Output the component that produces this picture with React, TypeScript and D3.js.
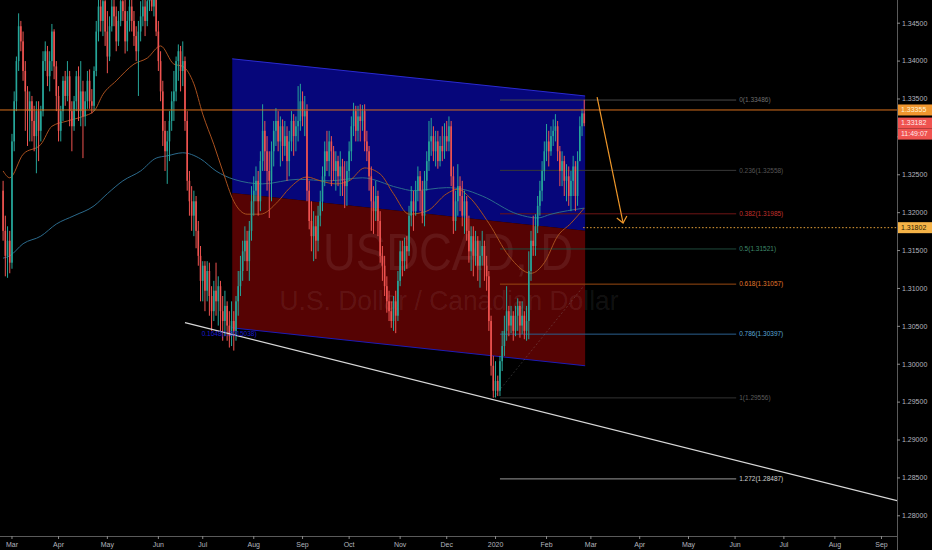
import React from 'react';
import * as d3 from 'd3';

// ---------- DATA ----------
// Daily USDCAD bars, first bar = 2019-02-25, weekdays only
const START_DATE = '2019-02-25';
const firstOpen = 1.3229;
const closes = [
  1.3176,1.3143,1.3163,1.3134,1.3294,1.3347,1.3400,1.3446,1.3426,1.3387,
  1.3360,1.3334,1.3347,1.3321,1.3301,1.3334,1.3308,1.3334,1.3400,1.3413,
  1.3380,1.3400,1.3439,1.3393,1.3354,1.3308,1.3334,1.3374,1.3354,1.3380,
  1.3334,1.3314,1.3347,1.3380,1.3334,1.3360,1.3327,1.3347,1.3374,1.3347,
  1.3341,1.3387,1.3439,1.3472,1.3453,1.3479,1.3439,1.3406,1.3446,1.3472,
  1.3459,1.3426,1.3453,1.3479,1.3466,1.3426,1.3453,1.3472,1.3453,1.3433,
  1.3413,1.3439,1.3459,1.3472,1.3453,1.3479,1.3492,1.3472,1.3486,1.3439,
  1.3400,1.3360,1.3308,1.3281,1.3294,1.3321,1.3347,1.3360,1.3400,1.3413,
  1.3387,1.3400,1.3321,1.3242,1.3215,1.3196,1.3215,1.3176,1.3143,1.3110,
  1.3130,1.3097,1.3123,1.3090,1.3070,1.3097,1.3083,1.3103,1.3070,1.3057,
  1.3077,1.3051,1.3037,1.3057,1.3044,1.3083,1.3103,1.3123,1.3149,1.3163,
  1.3136,1.3176,1.3215,1.3229,1.3242,1.3215,1.3268,1.3308,1.3281,1.3255,
  1.3242,1.3281,1.3308,1.3321,1.3294,1.3314,1.3288,1.3301,1.3268,1.3294,
  1.3321,1.3301,1.3314,1.3321,1.3347,1.3327,1.3334,1.3229,1.3189,1.3169,
  1.3182,1.3163,1.3196,1.3215,1.3248,1.3281,1.3268,1.3294,1.3281,1.3255,
  1.3268,1.3248,1.3261,1.3242,1.3235,1.3255,1.3281,1.3314,1.3334,1.3308,
  1.3327,1.3321,1.3334,1.3294,1.3281,1.3248,1.3215,1.3202,1.3222,1.3189,
  1.3143,1.3130,1.3103,1.3083,1.3070,1.3057,1.3083,1.3064,1.3110,1.3149,
  1.3136,1.3156,1.3149,1.3196,1.3215,1.3202,1.3229,1.3248,1.3229,1.3196,
  1.3242,1.3268,1.3294,1.3301,1.3281,1.3294,1.3268,1.3288,1.3281,1.3301,
  1.3294,1.3314,1.3248,1.3189,1.3215,1.3235,1.3222,1.3196,1.3215,1.3176,
  1.3149,1.3169,1.3143,1.3163,1.3130,1.3143,1.3156,1.3130,1.3116,1.3057,
  1.2998,1.2965,1.2978,1.2965,1.3004,1.3024,1.3044,1.3070,1.3051,1.3064,
  1.3044,1.3064,1.3077,1.3051,1.3064,1.3044,1.3057,1.3123,1.3163,1.3156,
  1.3182,1.3209,1.3229,1.3255,1.3281,1.3294,1.3281,1.3301,1.3308,1.3314,
  1.3281,1.3255,1.3268,1.3242,1.3248,1.3222,1.3242,1.3261,1.3222,1.3268,
  1.3314,1.3331,1.3318,
];
const highs = [
  1.3242,1.3196,1.3182,1.3176,1.3304,1.3360,1.3406,1.3463,1.3453,1.3439,
  1.3400,1.3367,1.3360,1.3354,1.3341,1.3347,1.3347,1.3341,1.3413,1.3426,
  1.3420,1.3413,1.3449,1.3442,1.3400,1.3367,1.3341,1.3380,1.3387,1.3400,
  1.3387,1.3347,1.3354,1.3387,1.3393,1.3400,1.3374,1.3360,1.3387,1.3389,
  1.3363,1.3393,1.3453,1.3492,1.3492,1.3499,1.3492,1.3466,1.3459,1.3492,
  1.3492,1.3472,1.3466,1.3499,1.3505,1.3486,1.3466,1.3492,1.3486,1.3466,
  1.3446,1.3453,1.3479,1.3492,1.3492,1.3499,1.3512,1.3512,1.3505,1.3505,
  1.3453,1.3413,1.3374,1.3321,1.3308,1.3334,1.3360,1.3387,1.3406,1.3422,
  1.3420,1.3426,1.3406,1.3334,1.3255,1.3235,1.3229,1.3222,1.3189,1.3156,
  1.3136,1.3136,1.3136,1.3134,1.3103,1.3110,1.3134,1.3116,1.3110,1.3090,
  1.3097,1.3083,1.3070,1.3083,1.3070,1.3090,1.3123,1.3143,1.3163,1.3182,
  1.3176,1.3189,1.3235,1.3248,1.3261,1.3255,1.3281,1.3343,1.3321,1.3301,
  1.3281,1.3294,1.3321,1.3338,1.3334,1.3327,1.3323,1.3321,1.3314,1.3308,
  1.3334,1.3330,1.3327,1.3367,1.3370,1.3360,1.3354,1.3343,1.3242,1.3215,
  1.3202,1.3196,1.3209,1.3229,1.3261,1.3294,1.3308,1.3308,1.3301,1.3288,
  1.3281,1.3275,1.3281,1.3271,1.3268,1.3268,1.3294,1.3327,1.3345,1.3341,
  1.3341,1.3343,1.3342,1.3343,1.3308,1.3288,1.3261,1.3235,1.3242,1.3229,
  1.3202,1.3156,1.3143,1.3116,1.3097,1.3083,1.3090,1.3097,1.3123,1.3163,
  1.3163,1.3167,1.3169,1.3209,1.3235,1.3229,1.3242,1.3261,1.3255,1.3242,
  1.3255,1.3281,1.3321,1.3325,1.3314,1.3308,1.3308,1.3301,1.3314,1.3318,
  1.3321,1.3327,1.3321,1.3261,1.3229,1.3264,1.3248,1.3242,1.3229,1.3222,
  1.3196,1.3182,1.3182,1.3176,1.3169,1.3163,1.3176,1.3163,1.3143,1.3123,
  1.3064,1.3011,1.3004,1.2985,1.3011,1.3044,1.3064,1.3103,1.3077,1.3077,
  1.3070,1.3077,1.3087,1.3083,1.3083,1.3070,1.3077,1.3149,1.3176,1.3196,
  1.3198,1.3222,1.3242,1.3268,1.3294,1.3317,1.3308,1.3314,1.3323,1.3330,
  1.3321,1.3288,1.3281,1.3275,1.3264,1.3261,1.3255,1.3275,1.3268,1.3281,
  1.3327,1.3337,1.3349,
];
const lows = [
  1.3163,1.3116,1.3114,1.3120,1.3126,1.3281,1.3334,1.3387,1.3413,1.3374,
  1.3308,1.3288,1.3294,1.3294,1.3281,1.3252,1.3268,1.3294,1.3327,1.3387,
  1.3367,1.3360,1.3387,1.3376,1.3334,1.3294,1.3294,1.3321,1.3341,1.3347,
  1.3314,1.3281,1.3308,1.3334,1.3321,1.3314,1.3272,1.3314,1.3337,1.3337,
  1.3331,1.3334,1.3380,1.3426,1.3439,1.3433,1.3420,1.3384,1.3400,1.3439,
  1.3446,1.3413,1.3420,1.3446,1.3453,1.3410,1.3413,1.3439,1.3439,1.3420,
  1.3400,1.3354,1.3426,1.3446,1.3433,1.3446,1.3466,1.3466,1.3459,1.3433,
  1.3387,1.3347,1.3288,1.3255,1.3238,1.3268,1.3308,1.3321,1.3347,1.3374,
  1.3360,1.3367,1.3308,1.3229,1.3196,1.3176,1.3169,1.3153,1.3130,1.3083,
  1.3083,1.3070,1.3083,1.3064,1.3044,1.3057,1.3064,1.3051,1.3044,1.3031,
  1.3037,1.3031,1.3022,1.3024,1.3018,1.3031,1.3064,1.3090,1.3110,1.3136,
  1.3123,1.3110,1.3163,1.3196,1.3215,1.3196,1.3202,1.3255,1.3255,1.3229,
  1.3193,1.3215,1.3261,1.3288,1.3281,1.3261,1.3268,1.3275,1.3242,1.3248,
  1.3281,1.3275,1.3281,1.3294,1.3308,1.3314,1.3301,1.3215,1.3178,1.3149,
  1.3136,1.3139,1.3149,1.3182,1.3202,1.3235,1.3255,1.3248,1.3235,1.3242,
  1.3229,1.3235,1.3222,1.3222,1.3206,1.3209,1.3242,1.3268,1.3301,1.3294,
  1.3294,1.3294,1.3308,1.3281,1.3268,1.3229,1.3176,1.3172,1.3189,1.3169,
  1.3134,1.3110,1.3090,1.3068,1.3057,1.3048,1.3044,1.3041,1.3057,1.3103,
  1.3116,1.3123,1.3126,1.3143,1.3182,1.3176,1.3196,1.3215,1.3202,1.3186,
  1.3182,1.3229,1.3255,1.3275,1.3268,1.3261,1.3258,1.3261,1.3268,1.3271,
  1.3281,1.3281,1.3235,1.3172,1.3176,1.3196,1.3202,1.3182,1.3172,1.3163,
  1.3134,1.3123,1.3116,1.3130,1.3110,1.3101,1.3130,1.3110,1.3097,1.3044,
  1.2985,1.2956,1.2956,1.2958,1.2958,1.2991,1.3011,1.3031,1.3037,1.3041,
  1.3031,1.3037,1.3044,1.3035,1.3040,1.3033,1.3031,1.3033,1.3110,1.3143,
  1.3143,1.3173,1.3196,1.3215,1.3242,1.3268,1.3261,1.3275,1.3288,1.3294,
  1.3268,1.3235,1.3235,1.3222,1.3215,1.3209,1.3202,1.3222,1.3202,1.3209,
  1.3268,1.3301,1.3314,
];

// Moving averages (bar index, price)
const emaIdx = [0,3,9,17,22,29,36,41,45,51,59,65,71,77,81,86,90,95,99,104,110,116,124,129,137,143,150,156,163,170,176,183,191,200,205,210,219,228,238,244,250,256,262];
const emaVal = [1.3255,1.3246,1.3277,1.3290,1.3314,1.3321,1.3327,1.3334,1.3356,1.3374,1.3396,1.3404,1.3420,1.3396,1.3393,1.3370,1.3330,1.3290,1.3255,1.3215,1.3198,1.3198,1.3215,1.3232,1.3247,1.3242,1.3238,1.3242,1.3259,1.3251,1.3225,1.3198,1.3202,1.3225,1.3231,1.3221,1.3186,1.3143,1.3120,1.3134,1.3169,1.3186,1.3206];
const smaIdx = [0,3,9,17,24,32,41,47,54,62,69,74,81,89,96,104,117,133,147,162,178,185,200,207,216,232,241,247,262];
const smaVal = [1.3140,1.3143,1.3159,1.3169,1.3185,1.3196,1.3209,1.3225,1.3242,1.3255,1.3272,1.3275,1.3279,1.3271,1.3255,1.3244,1.3238,1.3244,1.3242,1.3246,1.3233,1.3229,1.3233,1.3231,1.3222,1.3198,1.3193,1.3198,1.3206];

// Axis
const priceTicks = [1.345,1.34,1.335,1.33,1.325,1.32,1.315,1.31,1.305,1.30,1.295,1.29,1.285,1.28];
const hiddenTickLabels = [1.33]; // covered by the price labels in the reference
const monthDates = ['2019-03-01','2019-04-01','2019-05-01','2019-06-01','2019-07-01','2019-08-01','2019-09-01','2019-10-01','2019-11-01','2019-12-01','2020-01-01','2020-02-01','2020-03-01','2020-04-01','2020-05-01','2020-06-01','2020-07-01','2020-08-01','2020-09-01'];
const monthNames = ['Mar','Apr','May','Jun','Jul','Aug','Sep','Oct','Nov','Dec','2020','Feb','Mar','Apr','May','Jun','Jul','Aug','Sep'];

// Fibonacci retracement
const fibRatios = ['0','0.236','0.382','0.5','0.618','0.786','1','1.272'];
const fibPrices = [1.33486,1.32558,1.31985,1.31521,1.31057,1.30397,1.29556,1.28487];
const fibLineColors = ['#4a4a4a','#383838','#6e1414','#1f4a3c','#9a4a12','#2a5f8e','#333333','#9a9a9a'];
const fibTextColors = ['#6e6e6e','#555555','#c0302c','#3f8a6c','#e0782c','#5aa6d6','#5c5c5c','#d0d0d0'];
const fibSpan = [224, 330.5];

// Channel (bar index, price)
const channelIdx = [103.3, 262.4];
const channelTop = [1.3403, 1.3354];
const channelMid = [1.3226, 1.3176];
const channelBot = [1.3048, 1.2998];

// Other drawings
const trendIdx = [82, 403];
const trendPrice = [1.3055, 1.2820];
const fibDiagIdx = [221, 262];
const fibDiagPrice = [1.29556, 1.3104];
const arrowIdx = [267.8, 279.5];
const arrowPrice = [1.33526, 1.31864];
const hLinePrice = 1.33355;
const lastPrice = 1.33182;
const countdown = '11:49:07';
const dottedPrice = 1.31802;
const dottedStartIdx = 261.5;
const noteIdx = 89.5;
const notePrice = 1.3040;
const noteText = '0.1648(1.3015038)';

// ---------- CHART ----------
const W = 932, H = 550;
const AX = 897, AY = 536;
const FONT = 'Liberation Sans, Arial, sans-serif';
const UP = '#26a69a', DOWN = '#ef5350';

function barIndex(s: string): number {
  const base = Date.parse(START_DATE + 'T00:00:00Z');
  const d = Date.parse(s + 'T00:00:00Z');
  const days = Math.round((d - base) / 864e5);
  const w = Math.floor(days / 7);
  const r = days - w * 7;
  return w * 5 + Math.min(r, 5);
}

export default function App() {
  React.useEffect(() => {
    document.body.style.margin = '0';
    document.body.style.background = '#000';
  }, []);

  const x = d3.scaleLinear().domain([-1.4, 403]).range([0, AX]);
  const y = d3.scaleLinear().domain([1.28, 1.345]).range([515.8, 23.2]);

  const opens = closes.map((c, i) => (i === 0 ? firstOpen : closes[i - 1]));

  const lineGen = d3.line<[number, number]>().x(d => x(d[0])).y(d => y(d[1])).curve(d3.curveMonotoneX);
  const emaPath = lineGen(emaIdx.map((v, i) => [v, emaVal[i]] as [number, number]));
  const smaPath = lineGen(smaIdx.map((v, i) => [v, smaVal[i]] as [number, number]));

  const cx0 = x(channelIdx[0]), cx1 = x(channelIdx[1]);
  const poly = (a: number[], b: number[]) =>
    `M${cx0},${y(a[0])}L${cx1},${y(a[1])}L${cx1},${y(b[1])}L${cx0},${y(b[0])}Z`;

  // arrow
  const ax0 = x(arrowIdx[0]), ay0 = y(arrowPrice[0]);
  const ax1 = x(arrowIdx[1]), ay1 = y(arrowPrice[1]);
  const len = Math.hypot(ax1 - ax0, ay1 - ay0);
  const ux = (ax0 - ax1) / len, uy = (ay0 - ay1) / len;
  const wing = (ang: number) => {
    const c = Math.cos(ang), s = Math.sin(ang);
    return [ax1 + 8 * (ux * c - uy * s), ay1 + 8 * (ux * s + uy * c)];
  };
  const w1 = wing((40 * Math.PI) / 180), w2 = wing((-40 * Math.PI) / 180);

  const labelBox = (price: number, text: string, bg: string, fg: string, dy = 0, key = '') => {
    const cy = y(price) + dy;
    return (
      <g key={key || text}>
        <rect x={AX + 1} y={cy - 5.5} width={W - AX - 1} height={11} fill={bg} />
        <text x={AX + 4} y={cy + 0.5} fill={fg} fontSize={7} fontFamily={FONT} dominantBaseline="middle">{text}</text>
      </g>
    );
  };

  return (
    <svg width={W} height={H} style={{ position: 'absolute', left: 0, top: 0, background: '#000', display: 'block' }}>
      <defs>
        <clipPath id="plot"><rect x={0} y={0} width={AX} height={AY} /></clipPath>
      </defs>
      <rect x={0} y={0} width={W} height={H} fill="#000" />
      <g clipPath="url(#plot)">
        {/* channel fills */}
        <path d={poly(channelTop, channelMid)} fill="#06067a" />
        <path d={poly(channelMid, channelBot)} fill="#560303" />
        <line x1={cx0} y1={y(channelTop[0])} x2={cx1} y2={y(channelTop[1])} stroke="#2a2ad0" strokeWidth={1} />
        <line x1={cx0} y1={y(channelBot[0])} x2={cx1} y2={y(channelBot[1])} stroke="#1c1cb8" strokeWidth={1} />

        {/* watermark */}
        <text x={448} y={270} textAnchor="middle" fontSize={52} fontFamily={FONT} fill="rgba(255,255,255,0.08)" textLength={250} lengthAdjust="spacingAndGlyphs">USDCAD, D</text>
        <text x={449} y={310} textAnchor="middle" fontSize={28} fontFamily={FONT} fill="rgba(255,255,255,0.08)" textLength={339} lengthAdjust="spacingAndGlyphs">U.S. Dollar / Canadian Dollar</text>

        {/* fib lines */}
        {fibPrices.map((p, i) => (
          <line key={'fl' + i} x1={x(fibSpan[0])} x2={x(fibSpan[1])} y1={y(p)} y2={y(p)} stroke={fibLineColors[i]} strokeWidth={1} />
        ))}
        <line x1={x(fibDiagIdx[0])} y1={y(fibDiagPrice[0])} x2={x(fibDiagIdx[1])} y2={y(fibDiagPrice[1])} stroke="rgba(140,140,140,0.3)" strokeWidth={1} strokeDasharray="2,2" />

        {/* moving averages */}
        <path d={smaPath || ''} fill="none" stroke="#2b6a8c" strokeWidth={1} />
        <path d={emaPath || ''} fill="none" stroke="#a8501e" strokeWidth={1} />

        {/* candles */}
        {closes.map((c, i) => {
          const o = opens[i];
          const col = c >= o ? UP : DOWN;
          const cx = x(i);
          const yt = y(Math.max(o, c));
          const yb = y(Math.min(o, c));
          return (
            <g key={'c' + i}>
              <line x1={cx} x2={cx} y1={y(highs[i])} y2={y(lows[i])} stroke={col} strokeWidth={1} />
              <rect x={cx - 0.8} y={yt} width={1.6} height={Math.max(0.8, yb - yt)} fill={col} />
            </g>
          );
        })}

        {/* fib labels */}
        {fibPrices.map((p, i) => (
          <text key={'ft' + i} x={x(fibSpan[1]) + 3} y={y(p) + 0.5} fill={fibTextColors[i]} fontSize={6.5} fontFamily={FONT} dominantBaseline="middle">
            {`${fibRatios[i]}(${p.toFixed(5)})`}
          </text>
        ))}

        {/* trend line */}
        <line x1={x(trendIdx[0])} y1={y(trendPrice[0])} x2={x(trendIdx[1])} y2={y(trendPrice[1])} stroke="#d8d8d8" strokeWidth={1.2} />
        <text x={x(noteIdx)} y={y(notePrice)} fill="#1a1acc" fontSize={6.5} fontFamily={FONT} dominantBaseline="middle">{noteText}</text>

        {/* horizontal orange line */}
        <line x1={0} x2={AX} y1={y(hLinePrice)} y2={y(hLinePrice)} stroke="#d8701c" strokeWidth={1} />
        {/* dotted line */}
        <line x1={x(dottedStartIdx)} x2={AX} y1={y(dottedPrice)} y2={y(dottedPrice)} stroke="#e8a33a" strokeWidth={1} strokeDasharray="1.5,2" />

        {/* arrow */}
        <line x1={ax0} y1={ay0} x2={ax1} y2={ay1} stroke="#f0982a" strokeWidth={1.2} />
        <polyline points={`${w1[0]},${w1[1]} ${ax1},${ay1} ${w2[0]},${w2[1]}`} fill="none" stroke="#f0982a" strokeWidth={1.2} />
      </g>

      {/* axes */}
      <line x1={AX + 0.5} x2={AX + 0.5} y1={0} y2={H} stroke="#5a5a5a" strokeWidth={1} />
      <line x1={0} x2={AX} y1={AY + 0.5} y2={AY + 0.5} stroke="#5a5a5a" strokeWidth={1} />
      {priceTicks.map(p => (
        <g key={'pt' + p}>
          <line x1={AX} x2={AX + 3} y1={y(p)} y2={y(p)} stroke="#8a8a8a" strokeWidth={1} />
          {hiddenTickLabels.indexOf(p) < 0 && (
            <text x={AX + 5} y={y(p) + 0.5} fill="#b2b5be" fontSize={7} fontFamily={FONT} dominantBaseline="middle">{p.toFixed(5)}</text>
          )}
        </g>
      ))}
      {monthDates.map((d, i) => {
        const mx = x(barIndex(d));
        return (
          <g key={'m' + i}>
            <line x1={mx} x2={mx} y1={AY} y2={AY + 3} stroke="#8a8a8a" strokeWidth={1} />
            <text x={mx} y={545} fill="#b2b5be" fontSize={7} fontFamily={FONT} textAnchor="middle" dominantBaseline="middle">{monthNames[i]}</text>
          </g>
        );
      })}

      {/* price labels */}
      {labelBox(hLinePrice, hLinePrice.toFixed(5), '#f0962f', '#fff4d6', 0, 'hl')}
      {labelBox(lastPrice, lastPrice.toFixed(5), '#ef5350', '#ffe9e9', 0, 'lp')}
      {labelBox(lastPrice, countdown, '#ef5350', '#ffe9e9', 11, 'cd')}
      {labelBox(dottedPrice, dottedPrice.toFixed(5), '#f5b347', '#2a1c00', 0, 'dp')}
    </svg>
  );
}
